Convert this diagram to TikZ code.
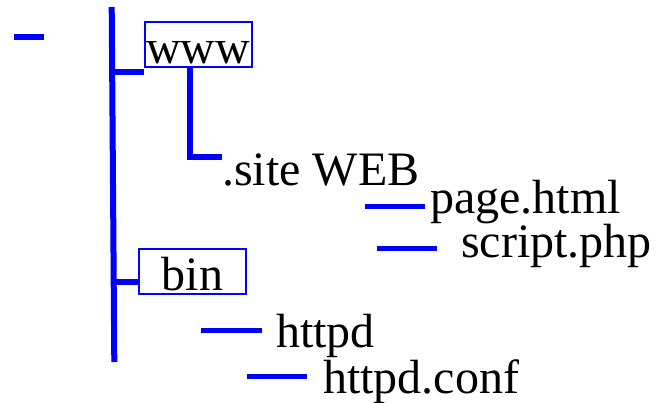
\documentclass[tikz,border=0pt]{standalone}
\usepackage{fontspec}
\setmainfont{Liberation Serif}
\begin{document}
\begin{tikzpicture}[x=1pt,y=-1pt,
  treefont/.style={font=\fontsize{48}{52}\selectfont},
  branch/.style={draw=blue, line width=6pt},
  leaf/.style={draw=blue, line width=5pt},
  dirbox/.style={treefont, draw=blue, line width=2pt, inner sep=0pt,
    minimum width=107pt, text height=41pt, text depth=4pt, anchor=base},
  filetext/.style={treefont, inner sep=0pt, anchor=base west}]
\useasboundingbox (0,0) rectangle (656,402);

% directories
\node[dirbox] (www) at (198,63) {www};
\node[dirbox] (bin) at (192.5,290) {bin};

% entries
\node[filetext] (site)   at (222,185) {.site WEB};
\node[filetext] (page)   at (430,213) {page.html};
\node[filetext] (script) at (461,257) {script.php};
\node[filetext] (httpd)  at (276,347) {httpd};
\node[filetext] (conf)   at (323,393) {httpd.conf};

% root mark and trunk
\coordinate (root) at (14,36.7);
\draw[branch] (root) -- ++(30,0);
\coordinate (trunktop) at (111.7,7);
\coordinate (trunkbot) at (114.3,362);
\draw[branch] (trunktop) -- (trunkbot);

% branches off the trunk
\coordinate (wwwjoin) at (112,72);
\draw[branch] (wwwjoin) -- (wwwjoin -| www.west);
\coordinate (binjoin) at (114,282);
\draw[branch] (binjoin) -- (binjoin -| bin.west);

% www -> .site WEB
\coordinate (siteelbow) at (190,157);
\draw[branch] (siteelbow |- www.south) -- (siteelbow) -- (siteelbow -| site.west);

% file dashes
\draw[leaf] ([shift={(-65,-6.3)}]page.base west) -- ([shift={(-5,-6.3)}]page.base west);
\draw[leaf] ([shift={(-84.3,-8.5)}]script.base west) -- ([shift={(-23.7,-8.5)}]script.base west);
\draw[leaf] ([shift={(-75,-16.2)}]httpd.base west) -- ([shift={(-14.3,-16.2)}]httpd.base west);
\draw[leaf] ([shift={(-76.3,-16.7)}]conf.base west) -- ([shift={(-16.3,-16.7)}]conf.base west);
\end{tikzpicture}
\end{document}
